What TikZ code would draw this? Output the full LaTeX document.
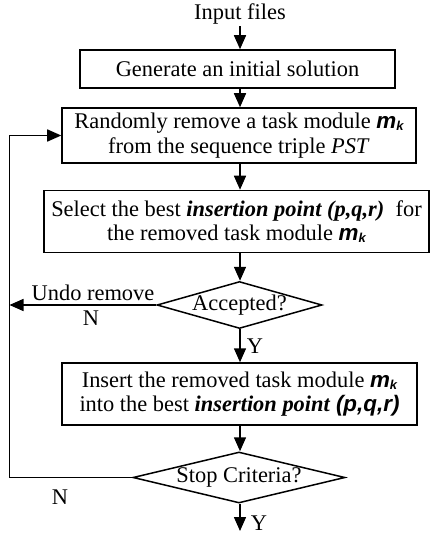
\documentclass[tikz,border=0pt]{standalone}
\usepackage{fontspec}
\setmainfont{Liberation Serif}
\setsansfont{Liberation Sans}
\usetikzlibrary{shapes.geometric,arrows.meta}
\newcommand{\mk}{\textsf{\bfseries\itshape m{\fontsize{13}{14}\selectfont\raisebox{-2bp}{k}}}}
\begin{document}
\begin{tikzpicture}[x=1bp,y=-1bp,
  txt/.style={font=\fontsize{22.5}{24.5}\selectfont, inner sep=0pt},
  box/.style={txt, draw, line width=1.5bp, rectangle, align=center},
  dia/.style={draw, diamond, line width=1.5bp, inner sep=0pt},
  arr/.style={line width=1.5bp, -{Triangle[length=14bp,width=12bp]}}]
\useasboundingbox (0,0) rectangle (430,534);
\node[txt] (in) at (240,14) {Input files};
\node[box, minimum width=315bp, minimum height=38bp] (b1) at (237.5,69) {Generate an initial solution};
\node[box, minimum width=354bp, minimum height=55bp] (b2) at (239,135.5)
  {Randomly remove a task module \mk\\ from the sequence triple \textit{PST}};
\node[box, minimum width=385bp, minimum height=62bp] (b3) at (236.5,221.5)
  {Select the best \textbf{\textit{insertion point (p,q,r)}}\ \ for\\ the removed task module \mk};
\node[dia, minimum width=165bp, minimum height=47bp] (d1) at (239.5,305) {};
\node[txt] at (d1.center) {Accepted?};
\node[box, minimum width=355bp, minimum height=62bp] (b4) at (239.5,394)
  {Insert the removed task module \mk\\ into the best \textbf{\textit{insertion point}} \textsf{\bfseries\itshape (p,q,r)}};
\node[dia, minimum width=212bp, minimum height=51bp] (d2) at (239,477.5) {};
\node[txt] at (d2.center) {Stop Criteria?};
\coordinate (L) at (9.5,0);
\coordinate (end) at (240,531);
\draw[arr] (in.south) ++(0,2) -- (b1.north -| in);
\draw[arr] (b1.south -| in) -- (b2.north -| in);
\draw[arr] (b2.south -| in) -- (b3.north -| in);
\draw[arr] (b3.south -| in) -- (d1.north -| in);
\draw[arr] (d1.south -| in) -- (b4.north -| in);
\node[txt] (y1) at (255,346) {Y};
\draw[arr] (b4.south -| in) -- (d2.north -| in);
\draw[arr] (d2.south -| in) -- (end);
\node[txt] (y2) at (259,523) {Y};
\draw[arr] (d1.west) -- (d1.west -| L);
\node[txt] (undo) at (93,293) {Undo remove};
\node[txt] (n1) at (91,318) {N};
\draw[arr] (d2.west) -- (d2.west -| L) -- (b2.west -| L) -- (b2.west);
\node[txt] (n2) at (60,497) {N};
\end{tikzpicture}
\end{document}
